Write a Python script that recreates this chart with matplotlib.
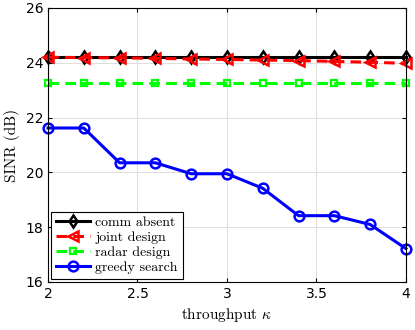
import matplotlib
matplotlib.use("Agg")
import matplotlib.pyplot as plt
import numpy as np

plt.rcParams['mathtext.fontset'] = 'cm'

kappa = [2.0, 2.2, 2.4, 2.6, 2.8, 3.0, 3.2, 3.4, 3.6, 3.8, 4.0]
comm_absent = [24.2] * 11
joint_design = [24.2, 24.19, 24.18, 24.16, 24.14, 24.12, 24.10, 24.08, 24.05, 24.02, 23.98]
radar_design = [23.26] * 11
greedy_search = [21.62, 21.62, 20.35, 20.35, 19.95, 19.95, 19.42, 18.42, 18.42, 18.1, 17.22]

fig = plt.figure(figsize=(4.15, 3.3), dpi=100)
ax = fig.add_axes([0.1157, 0.1455, 0.8623, 0.8303])

lw = 2.2
ax.plot(kappa, comm_absent, '-', color='k', marker='d', mfc='none', mew=1.8, ms=6.5, lw=lw, label='comm absent', clip_on=False)
ax.plot(kappa, joint_design, '--', color='r', marker='<', mfc='none', mew=1.8, ms=7.5, lw=lw, label='joint design', clip_on=False, dashes=(3.5, 2))
ax.plot(kappa, radar_design, '--', color='#00ff00', marker='s', mfc='none', mew=1.6, ms=5, lw=lw, label='radar design', clip_on=False, dashes=(3.5, 2))
ax.plot(kappa, greedy_search, '-', color='b', marker='o', mfc='none', mew=1.8, ms=7, lw=lw, label='greedy search', clip_on=False)

ax.set_xlim(2, 4)
ax.set_ylim(16, 26)
ax.set_xticks([2, 2.5, 3, 3.5, 4])
ax.set_xticklabels(['2', '2.5', '3', '3.5', '4'])
ax.set_yticks([16, 18, 20, 22, 24, 26])
ax.tick_params(labelsize=10, direction='in', length=3, top=True, right=True)
ax.grid(True, color='#dddddd', lw=0.7)
ax.set_axisbelow(True)

ax.set_xlabel(r'throughput $\kappa$', fontsize=11, fontfamily='cmr10')
ax.set_ylabel('SINR (dB)', fontsize=11, fontfamily='cmr10')

leg = ax.legend(loc='lower left', prop={'family': 'cmr10', 'size': 10}, fancybox=False,
                edgecolor='k', framealpha=1, handlelength=2.4, borderaxespad=0.25,
                labelspacing=0.15, handletextpad=0.4, borderpad=0.35)
leg.get_frame().set_linewidth(0.8)

fig.savefig('out.png', dpi=100)
